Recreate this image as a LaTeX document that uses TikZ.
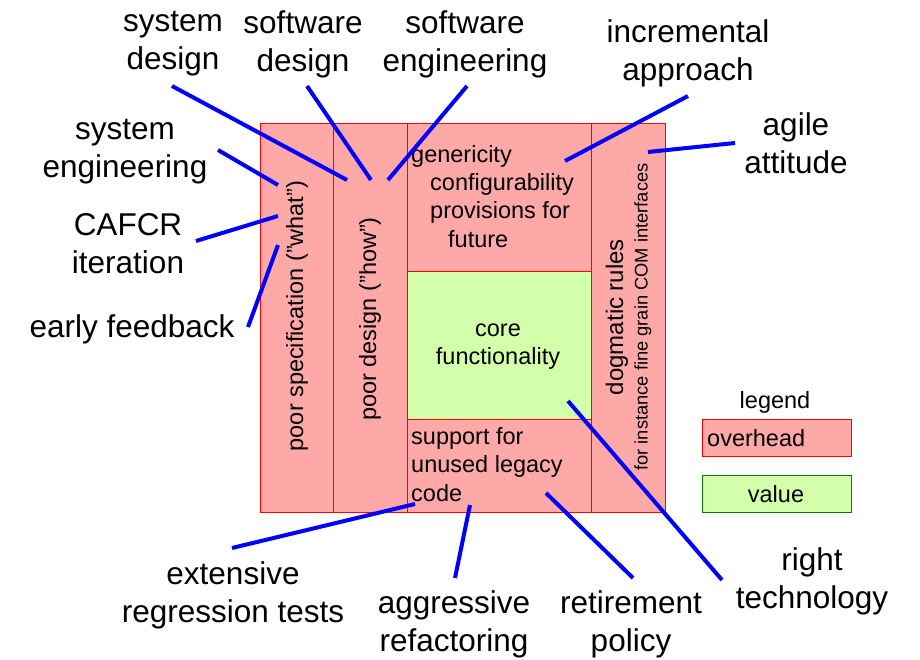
\documentclass[tikz,border=0pt]{standalone}
\usepackage{fontspec}
\setmainfont{Liberation Sans}
\definecolor{ovh}{RGB}{255,168,168}
\definecolor{val}{RGB}{212,255,170}
\definecolor{bred}{RGB}{255,0,0}
\definecolor{bgreen}{RGB}{0,128,0}
\definecolor{lblue}{RGB}{0,0,255}
\newcommand{\qq}{\symbol{34}}
\begin{document}
\begin{tikzpicture}[x=1pt,y=-1pt,
  ovbox/.style={fill=ovh,draw=bred,line width=1pt},
  vlbox/.style={fill=val,draw=bred,line width=1pt},
  big/.style={font=\fontsize{31.5}{38}\selectfont,align=center,inner sep=0pt},
  mid/.style={font=\fontsize{23.5}{28}\selectfont,inner sep=0pt},
  small/.style={font=\fontsize{18.3}{20}\selectfont,inner sep=0pt},
  conn/.style={draw=lblue,line width=4pt}]
\useasboundingbox (0,0) rectangle (920,660);
% blocks
\node[ovbox,minimum width=73pt,minimum height=388pt,inner sep=0pt] (spec) at (296.5,318) {};
\node[ovbox,minimum width=74pt,minimum height=388pt,inner sep=0pt] (des) at (370,318) {};
\node[ovbox,minimum width=184pt,minimum height=147pt,inner sep=0pt] (gen) at (499,197.5) {};
\node[vlbox,minimum width=184pt,minimum height=148pt,inner sep=0pt] (core) at (499,345) {};
\node[ovbox,minimum width=184pt,minimum height=93pt,inner sep=0pt] (leg) at (499,465.5) {};
\node[ovbox,minimum width=74pt,minimum height=388pt,inner sep=0pt] (dog) at (628,318) {};
% block texts
\node[mid,rotate=90] (spect) at (297,316) {poor specification (\qq what\qq)};
\node[mid,rotate=90] (dest) at (370,319) {poor design (\qq how\qq)};
\node[mid,rotate=90,font=\fontsize{24}{28}\selectfont] (dogt) at (617,317) {dogmatic rules};
\node[small,rotate=90] (dogs) at (643,317) {for instance fine grain COM interfaces};
\node[mid,anchor=west] (g1) at (411,156) {genericity};
\node[mid,anchor=west] (g2) at (430,184) {configurability};
\node[mid,anchor=west] (g3) at (430,212) {provisions for};
\node[mid,anchor=west] (g4) at (448,239) {future};
\node[mid,align=center,font=\fontsize{23.5}{28}\selectfont] (coret) at (498,347) {core\\functionality};
\node[mid,anchor=west] (l1) at (411,438) {support for};
\node[mid,anchor=west] (l2) at (411,466) {unused legacy};
\node[mid,anchor=west] (l3) at (411,493) {code};
% legend
\node[mid] (legt) at (775,402) {legend};
\node[ovbox,minimum width=149pt,minimum height=37pt,inner sep=0pt] (lego) at (776.5,437.5) {};
\node[mid,anchor=west] (legot) at (707,438) {overhead};
\node[fill=val,draw=bgreen,line width=1pt,minimum width=149pt,minimum height=37pt,inner sep=0pt] (legv) at (776.5,493.5) {};
\node[mid] (legvt) at (776,494) {value};
% labels
\node[big] (sysdes) at (173,44) {system\\design};
\node[big] (swdes) at (303,44) {software\\design};
\node[big] (sweng) at (465,44) {software\\engineering};
\node[big] (incr) at (688,53) {incremental\\approach};
\node[big] (agile) at (796,143) {agile\\attitude};
\node[big] (syseng) at (125,152) {system\\engineering};
\node[big] (cafcr) at (128,244) {CAFCR\\iteration};
\node[big] (early) at (132,329) {early feedback};
\node[big] (regr) at (233,595) {extensive\\regression tests};
\node[big] (refac) at (454,624) {aggressive\\refactoring};
\node[big] (retir) at (631,624) {retirement\\policy};
\node[big] (right) at (812,581) {right\\technology};
% connector endpoints
\coordinate (a1) at (172,86);  \coordinate (b1) at (347,180);
\coordinate (a2) at (307,86);  \coordinate (b2) at (371,180);
\coordinate (a3) at (467,86);  \coordinate (b3) at (388,180);
\coordinate (a4) at (688,96);  \coordinate (b4) at (565,161);
\coordinate (a5) at (735,143); \coordinate (b5) at (648,152);
\coordinate (a6) at (218,150); \coordinate (b6) at (278,185);
\coordinate (a7) at (196,241); \coordinate (b7) at (278,216);
\coordinate (a8) at (248,327); \coordinate (b8) at (278,245);
\coordinate (a9) at (232,548); \coordinate (b9) at (415,504);
\coordinate (a10) at (455,578); \coordinate (b10) at (470,505);
\coordinate (a11) at (633,578); \coordinate (b11) at (546,493);
\coordinate (a12) at (722,580); \coordinate (b12) at (568,401);
\foreach \i in {1,...,12} { \draw[conn] (a\i) -- (b\i); }
\end{tikzpicture}
\end{document}
